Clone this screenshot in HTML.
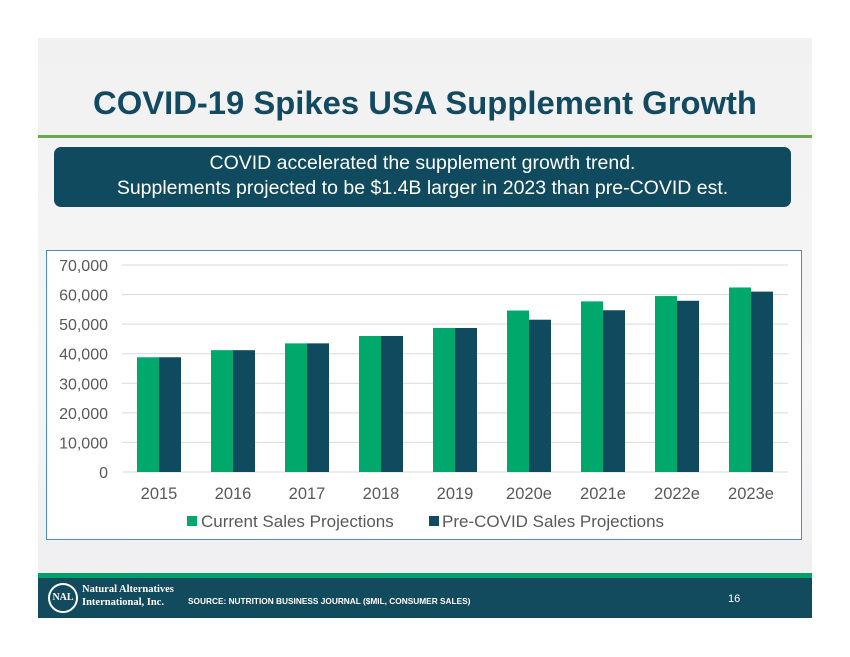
<!DOCTYPE html>
<html><head><meta charset="utf-8"><style>
body{margin:0;width:850px;height:657px;background:#fff;position:relative;overflow:hidden;font-family:"Liberation Sans",sans-serif}
#slide{position:absolute;left:38px;top:38px;width:774px;height:580px;background:linear-gradient(#f1f1f2,#f6f6f7 60%,#eeeef0)}
</style></head><body>
<div id="slide"></div>
<div style="position:absolute;left:38px;width:774px;top:84px;text-align:center;font-weight:bold;font-size:32.8px;color:#124a62">COVID-19 Spikes USA Supplement Growth</div>
<div style="position:absolute;left:38px;width:774px;top:135px;height:3px;background:#6aa84f"></div>
<div style="position:absolute;left:54px;top:147px;width:737px;height:60px;background:#0f4a5e;border-radius:7px;color:#fff;text-align:center;font-size:19.5px;line-height:25px;padding-top:4px;box-sizing:border-box">COVID accelerated the supplement growth trend.<br>Supplements projected to be $1.4B larger in 2023 than pre-COVID est.</div>
<div style="position:absolute;left:46px;top:250px;width:756px;height:290px;background:#fff;border:1px solid #4a8ec0;box-sizing:border-box"></div>
<svg id="chart" width="850" height="657" style="position:absolute;left:0;top:0" font-family="Liberation Sans, sans-serif"></svg>
<div style="position:absolute;left:38px;width:774px;top:573px;height:5px;background:#00a06a"></div>
<div style="position:absolute;left:38px;width:774px;top:578px;height:40px;background:#124a5e"></div>
<div style="position:absolute;left:48px;top:583px;width:30px;height:30px;border:2px solid #fff;border-radius:50%;color:#fff;font-size:10px;font-family:'Liberation Serif',serif;font-weight:bold;text-align:center;line-height:26px;box-sizing:border-box">NAL</div>
<div style="position:absolute;left:82px;top:583px;color:#fff;font-family:'Liberation Serif',serif;font-weight:bold;font-size:10.5px;line-height:13px">Natural Alternatives<br>International, Inc.</div>
<div style="position:absolute;left:188px;top:596px;color:#fff;font-weight:bold;font-size:8.3px">SOURCE: NUTRITION BUSINESS JOURNAL ($MIL, CONSUMER SALES)</div>
<div style="position:absolute;left:728px;top:593px;color:#fff;font-size:11px">16</div>
<script>
const categories=["2015","2016","2017","2018","2019","2020e","2021e","2022e","2023e"];
const currentSales=[38800,41200,43500,46000,48700,54600,57700,59500,62400];
const preCovidSales=[38800,41200,43500,46000,48700,51500,54700,57900,61000];
const yTicks=[0,10000,20000,30000,40000,50000,60000,70000];
const svg=document.getElementById('chart');const NS='http://www.w3.org/2000/svg';
const x0=122,x1=788,yBase=472,yTop=265,yMax=70000;
const y=v=>yBase-(v/yMax)*(yBase-yTop);
const band=(x1-x0)/categories.length;const bw=22;
function mk(t,a){const e=document.createElementNS(NS,t);for(const k in a)e.setAttribute(k,a[k]);svg.appendChild(e);return e;}
yTicks.forEach(v=>{
 const g=mk('line',{x1:x0,x2:x1,y1:y(v),y2:y(v),stroke:'#d9d9d9','stroke-width':1});
 
 
 const t=mk('text',{x:108,y:y(v)+6,'text-anchor':'end','font-size':16,fill:'#595959'});t.textContent=v.toLocaleString('en-US');
 
 
});
categories.forEach((c,i)=>{
 const cx=x0+band*(i+0.5);
 const b1=mk('rect',{x:cx-bw,y:y(currentSales[i]),width:bw,height:yBase-y(currentSales[i]),fill:'#00a86b'});
 
 
 const b2=mk('rect',{x:cx,y:y(preCovidSales[i]),width:bw,height:yBase-y(preCovidSales[i]),fill:'#0f4a5e'});
 
 
 const t=mk('text',{x:cx,y:499,'text-anchor':'middle','font-size':16.5,fill:'#595959'});t.textContent=c;
 
 
});
const l1=mk('rect',{x:187,y:516,width:10,height:10,fill:'#00a86b'});


const lt1=mk('text',{x:201,y:527,'font-size':17,fill:'#595959'});lt1.textContent='Current Sales Projections';


const l2=mk('rect',{x:429,y:516,width:10,height:10,fill:'#0f4a5e'});


const lt2=mk('text',{x:442,y:527,'font-size':17,fill:'#595959'});lt2.textContent='Pre-COVID Sales Projections';


</script>
</body></html>
